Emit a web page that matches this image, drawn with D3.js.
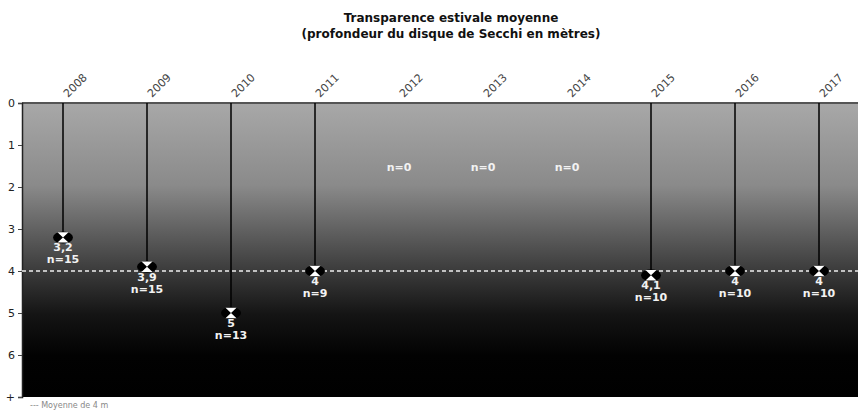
<!DOCTYPE html>
<html>
<head>
<meta charset="utf-8">
<script src="https://cdn.jsdelivr.net/npm/d3@7"></script>
<style>
body { margin:0; background:#fff; }
text { font-family: Tahoma, "DejaVu Sans", Verdana, sans-serif; }
</style>
</head>
<body>
<div id="chart"></div>
<script>
let years = ['2008','2009','2010','2011','2012','2013','2014','2015','2016','2017']
let depths = [3.2, 3.9, 5, 4, null, null, null, 4.1, 4, 4]
let counts = [15, 15, 13, 9, 0, 0, 0, 10, 10, 10]
let yTicks = [0, 1, 2, 3, 4, 5, 6, 7]
let meanDepth = 4

let width = 858, height = 411

let svg = d3.select('#chart').append('svg')
    .attr('width', width)
    .attr('height', height)

let margin = {left: 22, top: 103, right: -3, bottom: 14}

let x = d3.scaleBand()
    .domain(years)
    .range([margin.left - 1, width - margin.right])

let y = d3.scaleLinear()
    .domain([0, 7])
    .range([margin.top, height - margin.bottom])

let defs = svg.append('defs')

let grad = defs.append('linearGradient')
    .attr('id', 'water')
    .attr('x1', '0%').attr('y1', '0%')
    .attr('x2', '0%').attr('y2', '100%')

grad.append('stop').attr('offset', '0%').attr('stop-color', '#a8a8a8')
grad.append('stop').attr('offset', '28%').attr('stop-color', '#8a8a8a')
grad.append('stop').attr('offset', '56%').attr('stop-color', '#3e3e3e')
grad.append('stop').attr('offset', '72%').attr('stop-color', '#141414')
grad.append('stop').attr('offset', '86%').attr('stop-color', '#020202')
grad.append('stop').attr('offset', '100%').attr('stop-color', '#000')

// title
svg.append('text')
    .attr('x', 451).attr('y', 22)
    .attr('text-anchor', 'middle')
    .attr('font-size', 12).attr('font-weight', 'bold')
    .attr('fill', '#111')
    .text('Transparence estivale moyenne')

svg.append('text')
    .attr('x', 451).attr('y', 38)
    .attr('text-anchor', 'middle')
    .attr('font-size', 12).attr('font-weight', 'bold')
    .attr('fill', '#111')
    .text('(profondeur du disque de Secchi en mètres)')

// water background
svg.append('rect')
    .attr('x', margin.left)
    .attr('y', y(0))
    .attr('width', width - margin.left)
    .attr('height', y(7) - y(0))
    .attr('fill', 'url(#water)')

svg.append('line')
    .attr('x1', margin.left).attr('x2', width)
    .attr('y1', y(0)).attr('y2', y(0))
    .attr('stroke', '#555').attr('stroke-width', 2)

// y axis
let yAxis = d3.axisLeft(y)
    .tickValues(yTicks)
    .tickSize(4)
    .tickFormat(function(d){
        return d == 7 ? '+' : d
    })

let ya = svg.append('g')
    .attr('transform', 'translate(' + margin.left + ',0)')
    .call(yAxis)

ya.select('.domain').attr('stroke', '#222').attr('stroke-width', 1.5)
ya.selectAll('.tick line').attr('stroke', '#444')
ya.selectAll('.tick text')
    .attr('font-size', 11)
    .attr('fill', '#222')
    .attr('font-family', 'Tahoma, "DejaVu Sans", sans-serif')

// year labels
svg.append('g')
    .selectAll('.year')
    .data(years)
    .enter()
    .append('text')
    .attr('font-size', 11)
    .attr('fill', '#444')
    .attr('transform', function(d){
        let cx = x(d) + x.bandwidth() / 2
        return 'translate(' + (cx + 5) + ',98) rotate(-45)'
    })
    .text(function(d){ return d })

let points = years.map(function(d, i){
    return {year: d, depth: depths[i], n: counts[i]}
})

// lines down to the disk
svg.append('g')
    .selectAll('.rope')
    .data(points.filter(function(d){ return d.depth != null }))
    .enter()
    .append('line')
    .attr('x1', function(d){ return x(d.year) + x.bandwidth() / 2 })
    .attr('x2', function(d){ return x(d.year) + x.bandwidth() / 2 })
    .attr('y1', y(0))
    .attr('y2', function(d){ return y(d.depth) })
    .attr('stroke', '#000')
    .attr('stroke-width', 1.5)

// mean line
svg.append('line')
    .attr('x1', margin.left).attr('x2', width)
    .attr('y1', y(meanDepth)).attr('y2', y(meanDepth))
    .attr('stroke', '#eee')
    .attr('stroke-width', 1.5)
    .attr('stroke-dasharray', '4,3')

// secchi disks
let disk = svg.append('g')
    .selectAll('.disk')
    .data(points.filter(function(d){ return d.depth != null }))
    .enter()
    .append('g')
    .attr('transform', function(d){
        return 'translate(' + (x(d.year) + x.bandwidth() / 2) + ',' + y(d.depth) + ')'
    })

disk.append('ellipse')
    .attr('rx', 10).attr('ry', 6)
    .attr('fill', '#000')

disk.append('path')
    .attr('d', 'M-5.5,-5.2 L5.5,-5.2 L0,0 Z M-5.5,5.2 L5.5,5.2 L0,0 Z')
    .attr('fill', '#fff')

let labels = svg.append('g')
    .selectAll('.lbl')
    .data(points)
    .enter()
    .append('g')
    .attr('transform', function(d){
        let cx = x(d.year) + x.bandwidth() / 2
        let cy = d.depth != null ? y(d.depth) : y(1.5)
        return 'translate(' + cx + ',' + cy + ')'
    })

labels.filter(function(d){ return d.depth != null })
    .append('text')
    .attr('y', 14)
    .attr('text-anchor', 'middle')
    .attr('font-size', 11).attr('font-weight', 'bold')
    .attr('fill', '#f2f2f2')
    .text(function(d){ return String(d.depth).replace('.', ',') })

labels.append('text')
    .attr('y', function(d){ return d.depth != null ? 26 : 5 })
    .attr('text-anchor', 'middle')
    .attr('font-size', 11).attr('font-weight', 'bold')
    .attr('fill', '#f2f2f2')
    .text(function(d){ return 'n=' + d.n })

// legend
svg.append('text')
    .attr('x', 30).attr('y', 408)
    .attr('font-size', 8)
    .attr('fill', '#888')
    .text('--- Moyenne de 4 m')
</script>
</body>
</html>
